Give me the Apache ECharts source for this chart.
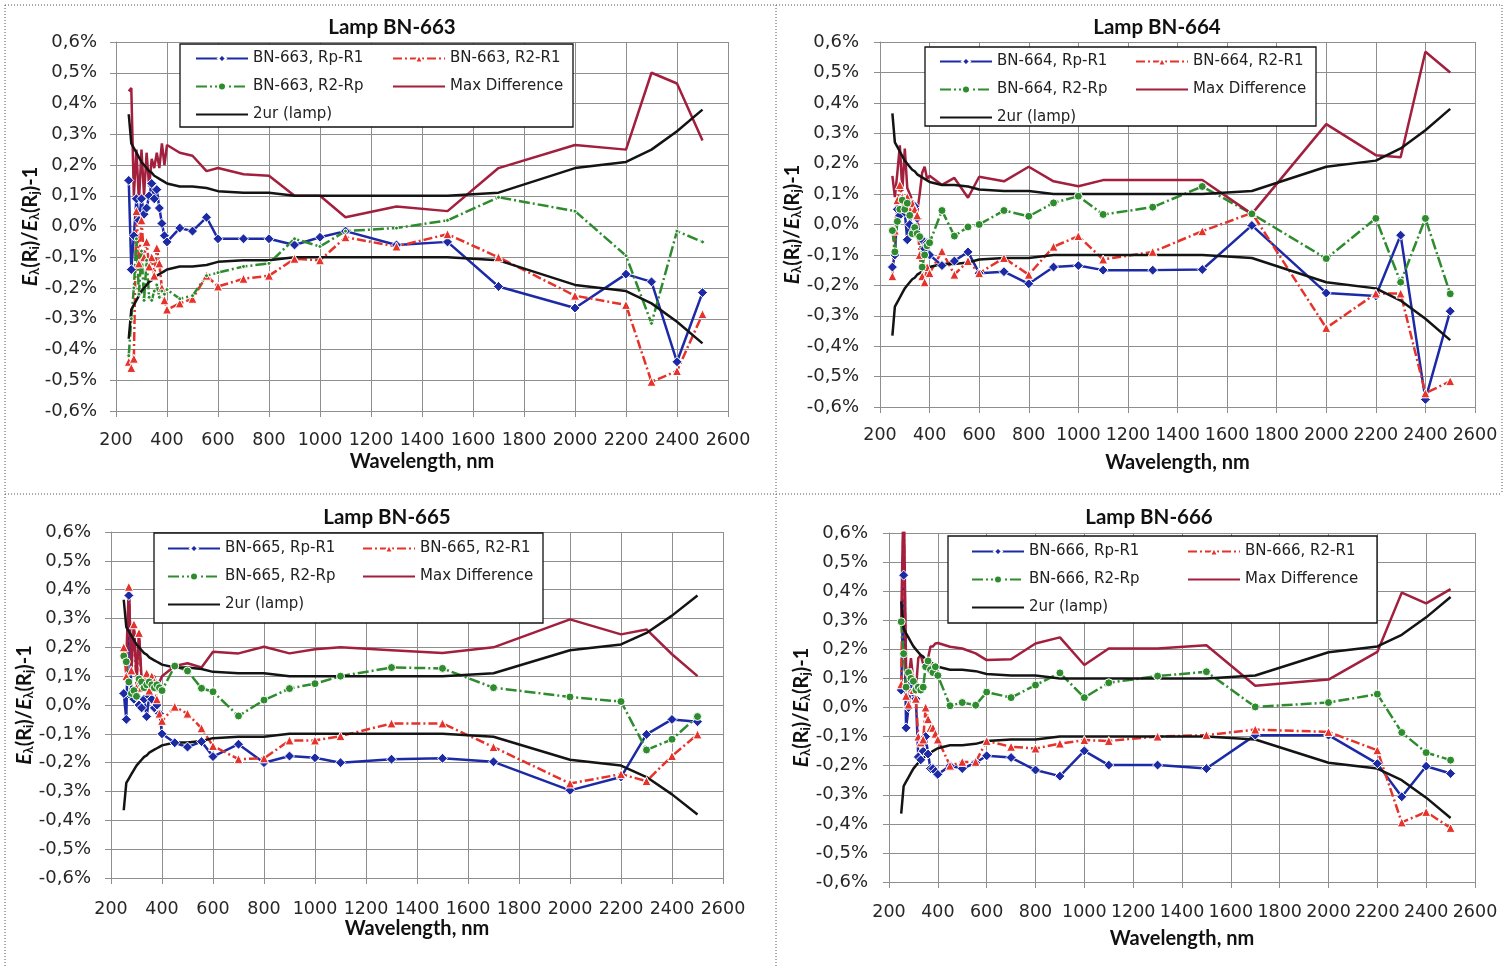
<!DOCTYPE html>
<html>
<head>
<meta charset="utf-8">
<script src="https://cdn.jsdelivr.net/npm/echarts/dist/echarts.min.js"></script>
<style>
  html, body { margin: 0; padding: 0; background: #ffffff; }
  #chart { width: 1505px; height: 969px; }
</style>
</head>
<body>
<div id="chart"></div>
<script>
// Wavelength grid shared by every lamp (nm)
const wavelengths = [250,260,270,280,290,300,310,320,330,340,350,360,370,380,390,400,
  450,500,555,600,700,800,900,1000,1100,1300,1500,1700,2000,2200,2300,2400,2500];

// Expanded lamp uncertainty 2ur, in %
const lampUpper = [0.365,0.27,0.255,0.24,0.225,0.21,0.20,0.19,0.18,0.175,0.165,0.16,0.155,0.15,0.145,0.14,
  0.13,0.13,0.125,0.115,0.11,0.11,0.10,0.10,0.10,0.10,0.10,0.11,0.19,0.21,0.25,0.31,0.38];
const lampLower = [-0.365,-0.27,-0.255,-0.24,-0.225,-0.21,-0.20,-0.19,-0.18,-0.175,-0.165,-0.16,-0.155,-0.15,-0.145,-0.14,
  -0.13,-0.13,-0.125,-0.115,-0.11,-0.11,-0.10,-0.10,-0.10,-0.10,-0.10,-0.11,-0.19,-0.21,-0.25,-0.31,-0.38];

// Lamp BN-663
const bn663RpR1 = [0.15,-0.14,-0.03,0.09,0.02,0.09,0.04,0.06,0.10,0.14,0.09,0.12,0.06,0.01,-0.03,-0.05,
  -0.005,-0.015,0.03,-0.04,-0.04,-0.04,-0.06,-0.035,-0.015,-0.06,-0.05,-0.195,-0.265,-0.155,-0.18,-0.44,-0.215];
const bn663R2R1 = [-0.44,-0.46,-0.43,0.05,-0.12,0.02,-0.10,-0.05,-0.13,-0.10,-0.16,-0.07,-0.12,-0.20,-0.24,-0.27,
  -0.25,-0.235,-0.16,-0.195,-0.17,-0.16,-0.105,-0.11,-0.035,-0.065,-0.025,-0.10,-0.225,-0.255,-0.505,-0.47,-0.285];
const bn663R2Rp = [-0.42,-0.30,-0.20,-0.04,-0.22,-0.08,-0.24,-0.11,-0.23,-0.24,-0.21,-0.19,-0.23,-0.21,-0.22,-0.205,
  -0.235,-0.225,-0.16,-0.15,-0.13,-0.12,-0.04,-0.065,-0.015,-0.005,0.02,0.095,0.05,-0.095,-0.315,-0.015,-0.05];
const bn663MaxDiff = [0.44,0.45,0.10,0.25,0.08,0.25,0.10,0.24,0.13,0.22,0.19,0.24,0.19,0.27,0.20,0.265,
  0.24,0.23,0.18,0.19,0.17,0.165,0.10,0.10,0.03,0.065,0.05,0.19,0.265,0.25,0.50,0.465,0.28];

// Lamp BN-664
const bn664RpR1 = [-0.14,-0.10,0.05,0.03,0.08,0.04,-0.05,0.00,0.07,0.06,0.02,-0.04,-0.05,-0.08,-0.06,-0.10,
  -0.135,-0.12,-0.09,-0.16,-0.155,-0.195,-0.14,-0.135,-0.15,-0.15,-0.148,-0.003,-0.225,-0.235,-0.035,-0.575,-0.285];
const bn664R2R1 = [-0.17,-0.02,0.08,0.13,0.09,0.07,0.09,0.05,0.07,0.05,0.03,-0.10,-0.17,-0.19,-0.14,-0.16,
  -0.088,-0.165,-0.12,-0.16,-0.11,-0.165,-0.073,-0.038,-0.115,-0.09,-0.022,0.038,-0.34,-0.227,-0.227,-0.555,-0.515];
const bn664R2Rp = [-0.02,-0.09,0.01,0.05,0.08,0.05,0.07,0.03,-0.03,-0.01,-0.03,-0.04,-0.14,-0.10,-0.07,-0.06,
  0.046,-0.038,-0.008,0.0,0.046,0.027,0.071,0.093,0.033,0.057,0.125,0.035,-0.112,0.02,-0.19,0.02,-0.228];
const bn664MaxDiff = [0.16,0.09,0.17,0.26,0.11,0.25,0.12,0.10,0.08,0.07,0.04,0.10,0.17,0.19,0.15,0.16,
  0.13,0.153,0.088,0.157,0.142,0.19,0.142,0.126,0.146,0.146,0.146,0.035,0.33,0.228,0.221,0.568,0.50];

// Lamp BN-665
const bn665RpR1 = [0.04,-0.05,0.38,0.03,0.02,0.03,0.00,-0.01,0.02,-0.04,0.03,0.02,-0.01,0.00,-0.03,-0.10,
  -0.131,-0.146,-0.127,-0.179,-0.136,-0.20,-0.177,-0.183,-0.20,-0.188,-0.185,-0.197,-0.296,-0.25,-0.102,-0.05,-0.058];
const bn665R2R1 = [0.20,0.10,0.41,0.12,0.28,0.06,0.25,0.06,0.09,0.11,0.05,0.10,0.08,0.02,-0.03,-0.055,
  -0.006,-0.03,-0.081,-0.142,-0.188,-0.185,-0.123,-0.123,-0.108,-0.064,-0.064,-0.146,-0.272,-0.24,-0.264,-0.177,-0.102];
const bn665R2Rp = [0.17,0.15,0.08,0.04,0.05,0.03,0.09,0.08,0.06,0.07,0.08,0.07,0.06,0.07,0.06,0.05,
  0.135,0.118,0.058,0.046,-0.038,0.017,0.057,0.074,0.10,0.13,0.127,0.06,0.028,0.012,-0.156,-0.119,-0.04];
const bn665MaxDiff = [0.20,0.16,0.41,0.12,0.28,0.09,0.25,0.09,0.10,0.11,0.08,0.10,0.10,0.06,0.08,0.10,
  0.135,0.145,0.13,0.185,0.179,0.202,0.179,0.193,0.20,0.19,0.18,0.20,0.297,0.245,0.262,0.176,0.10];

// Lamp BN-666
const bn666RpR1 = [0.06,0.455,-0.07,0.00,0.08,0.05,0.03,-0.17,-0.18,-0.15,-0.10,-0.16,-0.21,-0.21,-0.22,-0.23,
  -0.20,-0.21,-0.19,-0.166,-0.172,-0.215,-0.236,-0.149,-0.198,-0.198,-0.21,-0.095,-0.095,-0.193,-0.307,-0.202,-0.227];
const bn666R2R1 = [0.08,0.70,0.04,0.01,0.12,0.06,0.03,-0.10,-0.12,-0.11,0.00,-0.04,-0.07,-0.07,-0.09,-0.11,
  -0.20,-0.187,-0.187,-0.115,-0.135,-0.141,-0.124,-0.112,-0.115,-0.10,-0.095,-0.076,-0.084,-0.147,-0.395,-0.359,-0.414];
const bn666R2Rp = [0.295,0.185,0.07,0.12,0.10,0.09,0.06,0.07,0.06,0.07,0.14,0.16,0.13,0.12,0.14,0.11,
  0.006,0.017,0.008,0.053,0.034,0.077,0.119,0.034,0.085,0.108,0.123,0.002,0.017,0.046,-0.086,-0.155,-0.181];
const bn666MaxDiff = [0.30,0.75,0.14,0.10,0.17,0.09,0.06,0.17,0.18,0.15,0.15,0.17,0.21,0.21,0.22,0.222,
  0.209,0.203,0.186,0.163,0.166,0.22,0.241,0.146,0.203,0.203,0.214,0.075,0.096,0.191,0.395,0.358,0.407];

const lamps = [
  { id: 'BN-663', rpR1: bn663RpR1, r2R1: bn663R2R1, r2Rp: bn663R2Rp, maxDiff: bn663MaxDiff },
  { id: 'BN-664', rpR1: bn664RpR1, r2R1: bn664R2R1, r2Rp: bn664R2Rp, maxDiff: bn664MaxDiff },
  { id: 'BN-665', rpR1: bn665RpR1, r2R1: bn665R2R1, r2Rp: bn665R2Rp, maxDiff: bn665MaxDiff },
  { id: 'BN-666', rpR1: bn666RpR1, r2R1: bn666R2R1, r2Rp: bn666R2Rp, maxDiff: bn666MaxDiff }
];

// Panel placement on the page
const panelLayout = [
  { grid: { left: 116, top: 42, width: 612, height: 369 }, title: [392, 27], box: [180, 44, 393, 83],
    legA: [195, 51], legB: [392, 51], xLabelMargin: 20, xNameGap: 41, yNameGap: 70, yLabelMargin: 19, greenSize: 4 },
  { grid: { left: 880, top: 42, width: 595, height: 365 }, title: [1157, 27], box: [925, 47, 391, 79],
    legA: [939, 54], legB: [1135, 54], xLabelMargin: 19, xNameGap: 46, yNameGap: 70, yLabelMargin: 21, greenSize: 8 },
  { grid: { left: 111, top: 532, width: 612, height: 346 }, title: [387, 517], box: [154, 533, 389, 90],
    legA: [167, 541], legB: [362, 541], xLabelMargin: 22, xNameGap: 41, yNameGap: 70, yLabelMargin: 20, greenSize: 8 },
  { grid: { left: 889, top: 533, width: 586, height: 349 }, title: [1149, 517], box: [948, 536, 429, 87],
    legA: [971, 544], legB: [1187, 544], xLabelMargin: 21, xNameGap: 47, yNameGap: 73, yLabelMargin: 21, greenSize: 8 }
];

const TICK_FONT = 'DejaVu Sans';
const HEAD_FONT = 'Lato';
const GRID_COLOR = '#8e8e8e';
const BLUE = '#1d2aa6', RED = '#e5332b', GREEN = '#2e8b2e', CRIMSON = '#a21f3d', BLACK = '#141414';

const toPoints = ys => wavelengths.map((w, i) => [w, ys[i]]);
const pctLabel = v => (Math.abs(v) < 1e-9 ? 0 : v).toFixed(1).replace('.', ',') + '%';
const nmLabel = v => String(Math.round(v));

const option = {
  animation: false,
  backgroundColor: '#ffffff',
  grid: [], xAxis: [], yAxis: [], series: [], legend: [], graphic: []
};

// Dotted frame separating the four panels
const frameLines = [
  [5, 5, 1502, 5], [5, 5, 5, 968], [776, 5, 776, 968], [5, 494, 1502, 494], [1502, 5, 1502, 494]
];
frameLines.forEach(l => option.graphic.push({
  type: 'line', silent: true, z: 1,
  shape: { x1: l[0], y1: l[1], x2: l[2], y2: l[3] },
  style: { stroke: '#555', lineWidth: 1, lineDash: [1, 2] }
}));

lamps.forEach((lamp, i) => {
  const L = panelLayout[i];
  option.grid.push(Object.assign({ outerBoundsMode: 'none', containLabel: false }, L.grid));

  option.xAxis.push({
    gridIndex: i, type: 'value', min: 200, max: 2600, interval: 200,
    axisLine: { show: true, onZero: false, lineStyle: { color: GRID_COLOR, width: 1 } },
    axisTick: { show: true, length: 6, lineStyle: { color: GRID_COLOR } },
    splitLine: { show: true, lineStyle: { color: GRID_COLOR, width: 1 } },
    axisLabel: { fontFamily: TICK_FONT, fontSize: 17.5, color: '#262626', margin: L.xLabelMargin, formatter: nmLabel },
    name: 'Wavelength, nm', nameLocation: 'middle', nameGap: L.xNameGap,
    nameTextStyle: { fontFamily: HEAD_FONT, fontWeight: 'bold', fontSize: 20, color: '#111' }
  });

  option.yAxis.push({
    gridIndex: i, type: 'value', min: -0.6, max: 0.6, interval: 0.1,
    axisLine: { show: true, onZero: false, lineStyle: { color: GRID_COLOR, width: 1 } },
    axisTick: { show: true, length: 6, lineStyle: { color: GRID_COLOR } },
    splitLine: { show: true, lineStyle: { color: GRID_COLOR, width: 1 } },
    axisLabel: { fontFamily: TICK_FONT, fontSize: 18, color: '#262626', margin: L.yLabelMargin, formatter: pctLabel },
    name: '{e|E}{s|λ}{n|(R}{s|i}{n|)/}{e|E}{s|λ}{n|(R}{s|j}{n|)-1}',
    nameLocation: 'middle', nameRotate: 90, nameGap: L.yNameGap,
    nameTextStyle: {
      fontFamily: HEAD_FONT, fontWeight: 'bold', fontSize: 20, color: '#111',
      rich: {
        e: { fontFamily: HEAD_FONT, fontStyle: 'italic', fontWeight: 'bold', fontSize: 21, color: '#111', lineHeight: 24, verticalAlign: 'bottom' },
        n: { fontFamily: HEAD_FONT, fontWeight: 'bold', fontSize: 20, color: '#111', lineHeight: 24, verticalAlign: 'bottom' },
        s: { fontFamily: HEAD_FONT, fontWeight: 'bold', fontSize: 13, color: '#111', lineHeight: 13, verticalAlign: 'bottom' }
      }
    }
  });

  const nRp = lamp.id + ', Rp-R1';
  const nR2 = lamp.id + ', R2-R1';
  const nGr = lamp.id + ', R2-Rp';
  const common = { xAxisIndex: i, yAxisIndex: i, type: 'line', clip: true };

  option.series.push(Object.assign({}, common, {
    name: nRp, data: toPoints(lamp.rpR1), color: BLUE,
    symbol: 'diamond', symbolSize: 10,
    lineStyle: { color: BLUE, width: 2.5 },
    itemStyle: { color: BLUE, borderColor: '#ffffff', borderWidth: 1 }
  }));
  option.series.push(Object.assign({}, common, {
    name: nR2, data: toPoints(lamp.r2R1), color: RED,
    symbol: 'triangle', symbolSize: 9,
    lineStyle: { color: RED, width: 2.5, type: [9, 3, 2, 3] },
    itemStyle: { color: RED, borderColor: '#ffffff', borderWidth: 1 }
  }));
  option.series.push(Object.assign({}, common, {
    name: nGr, data: toPoints(lamp.r2Rp), color: GREEN,
    symbol: 'circle', symbolSize: L.greenSize,
    lineStyle: { color: GREEN, width: 2.5, type: [11, 3, 2, 3] },
    itemStyle: { color: GREEN, borderColor: '#ffffff', borderWidth: 1 }
  }));
  option.series.push(Object.assign({}, common, {
    name: 'Max Difference', data: toPoints(lamp.maxDiff), color: CRIMSON,
    symbol: 'none', lineStyle: { color: CRIMSON, width: 2.5 }
  }));
  option.series.push(Object.assign({}, common, {
    name: '2ur (lamp)', data: toPoints(lampUpper), color: BLACK,
    symbol: 'none', lineStyle: { color: BLACK, width: 2.5 }
  }));
  option.series.push(Object.assign({}, common, {
    name: '2ur (lamp)', data: toPoints(lampLower), color: BLACK,
    symbol: 'none', lineStyle: { color: BLACK, width: 2.5 }
  }));

  // Legend frame and two legend columns
  option.graphic.push({
    type: 'rect', silent: true, z: 9,
    shape: { x: L.box[0], y: L.box[1], width: L.box[2], height: L.box[3] },
    style: { fill: '#ffffff', stroke: '#111111', lineWidth: 1.3 }
  });
  const legendBase = {
    orient: 'vertical', itemWidth: 52, itemHeight: 10, itemGap: 13, z: 10,
    selectedMode: false, padding: 0,
    textStyle: { fontFamily: TICK_FONT, fontSize: 15, color: '#222' }
  };
  const plainLine = name => ({ name: name, itemStyle: { opacity: 0 } });
  option.legend.push(Object.assign({}, legendBase, {
    left: L.legA[0], top: L.legA[1], data: [nRp, nGr, plainLine('2ur (lamp)')]
  }));
  option.legend.push(Object.assign({}, legendBase, {
    left: L.legB[0], top: L.legB[1], data: [nR2, plainLine('Max Difference')]
  }));

  // Panel title
  option.graphic.push({
    type: 'text', silent: true, z: 10, x: L.title[0], y: L.title[1],
    style: {
      text: 'Lamp ' + lamp.id, font: 'bold 20.5px ' + HEAD_FONT, fill: '#111',
      align: 'center', verticalAlign: 'middle', textAlign: 'center', textVerticalAlign: 'middle'
    }
  });
});

const chart = echarts.init(document.getElementById('chart'));
chart.setOption(option);
</script>
</body>
</html>
